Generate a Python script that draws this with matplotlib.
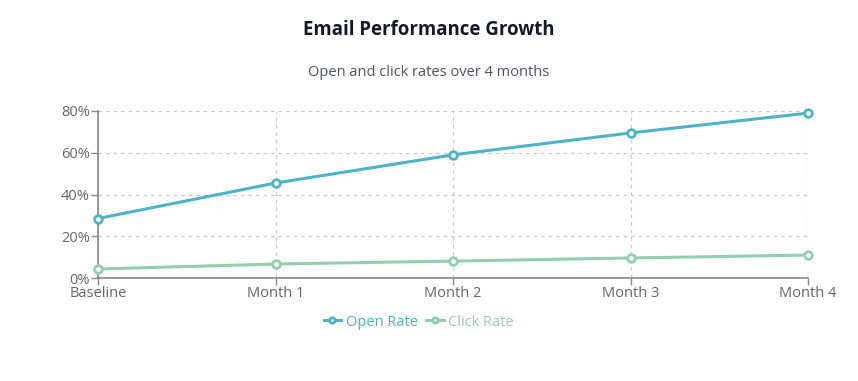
import matplotlib
matplotlib.use("Agg")
import matplotlib.pyplot as plt
from matplotlib.ticker import FuncFormatter

# --- Data ---
months = ["Baseline", "Month 1", "Month 2", "Month 3", "Month 4"]
open_rate = [28.5, 45.5, 59, 69.5, 79]
click_rate = [4.3, 6.7, 8.1, 9.6, 11]

open_color = "#4cb4c9"
click_color = "#91cfad"

plt.rcParams["font.family"] = ["Open Sans", "DejaVu Sans"]

fig = plt.figure(figsize=(8.58, 3.81), dpi=100)
ax = fig.add_axes([98 / 858, 103 / 381, 710 / 858, 167 / 381])

x = list(range(len(months)))
ax.plot(x, open_rate, color=open_color, lw=2.2, marker="o", ms=5.5,
        mfc="white", mec=open_color, mew=2, label="Open Rate", zorder=3)
ax.plot(x, click_rate, color=click_color, lw=2.2, marker="o", ms=5.5,
        mfc="white", mec=click_color, mew=2, label="Click Rate", zorder=3)

ax.set_xlim(0, len(months) - 1)
ax.set_ylim(0, 80)
ax.set_xticks(x)
ax.set_xticklabels(months)
ax.set_yticks([0, 20, 40, 60, 80])
ax.yaxis.set_major_formatter(FuncFormatter(lambda v, p: f"{int(v)}%"))

ax.grid(True, color="#cccccc", linestyle=(0, (3, 3)), lw=0.9)
ax.set_axisbelow(True)
for side in ["top", "right"]:
    ax.spines[side].set_visible(False)
for side in ["left", "bottom"]:
    ax.spines[side].set_color("#888888")
    ax.spines[side].set_linewidth(1.2)
ax.tick_params(colors="#888888", labelcolor="#666666", labelsize=10.5,
               length=5, width=1, pad=1)
for line in ax.lines:
    line.set_clip_on(False)

fig.text(0.5, 1 - 30 / 381, "Email Performance Growth", ha="center",
         va="center", fontsize=13.4, fontweight="bold", color="#111827")
fig.text(0.5, 1 - 72 / 381, "Open and click rates over 4 months",
         ha="center", va="center", fontsize=10.5, color="#4b5563")

leg = fig.legend(loc="center", bbox_to_anchor=(0.488, 1 - 322 / 381), ncol=2,
                 frameon=False, fontsize=10.5, handlelength=1.2,
                 handletextpad=0.3, columnspacing=0.6, markerscale=0.7)
for text, c in zip(leg.get_texts(), [open_color, click_color]):
    text.set_color(c)

fig.savefig("out.png", dpi=100)
